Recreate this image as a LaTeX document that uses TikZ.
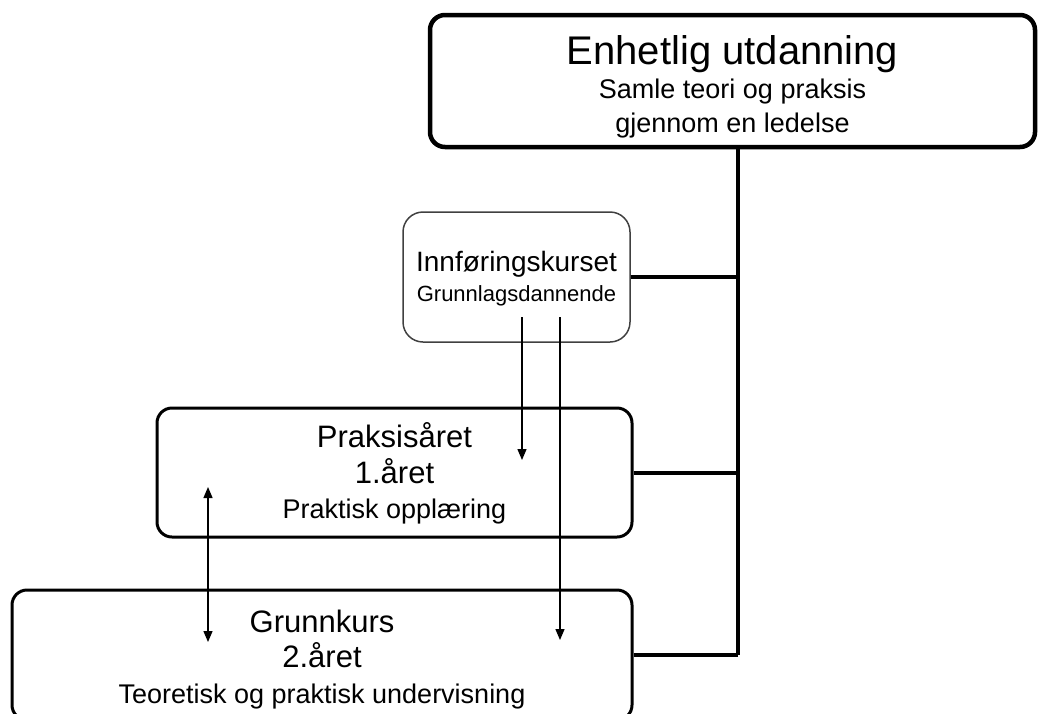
\documentclass[tikz,border=0pt]{standalone}
\usepackage{fontspec}
\setmainfont{Liberation Sans}
\usetikzlibrary{arrows.meta}

\newcommand{\topstrut}[1]{\rule{0pt}{#1}}

\begin{document}
\begin{tikzpicture}[
  x=1pt, y=-1pt,
  box/.style={draw=black, rectangle, rounded corners=15pt, align=center,
              inner sep=0pt, line width=3pt},
  arr/.style={-{Triangle[length=11pt,width=9pt]}, line width=1.3pt},
  trunk/.style={line width=4.5pt}
]
\path[use as bounding box, clip] (0,0) rectangle (1038,713);

\node[box, line width=4.5pt, minimum width=605pt, minimum height=132pt,
      font=\fontsize{27}{34}\selectfont] (top) at (732.5,81)
  {{\fontsize{40}{34}\selectfont\topstrut{41pt}Enhetlig utdanning}\\Samle teori og praksis\\gjennom en ledelse};
\node[box, draw=black!75, line width=1.5pt, rounded corners=20pt,
      minimum width=227pt, minimum height=130pt,
      font=\fontsize{22}{30}\selectfont] (inn) at (516.5,277)
  {{\fontsize{28}{30}\selectfont\topstrut{24pt}Innføringskurset}\\Grunnlagsdannende};
\node[box, minimum width=475pt, minimum height=129pt,
      font=\fontsize{31}{35.5}\selectfont] (prak) at (394.5,472.5)
  {\topstrut{27pt}Praksisåret\\1.året\\{\fontsize{27}{35.5}\selectfont Praktisk opplæring}};
\node[box, minimum width=620pt, minimum height=130pt,
      font=\fontsize{31}{35.5}\selectfont] (grunn) at (322,655)
  {\topstrut{31pt}Grunnkurs\\2.året\\{\fontsize{27}{35.5}\selectfont Teoretisk og praktisk undervisning}};

% ledelse-linja
\coordinate (j3) at (738,655);
\draw[trunk] (top.south -| j3) -- (j3);
\draw[trunk, line width=4pt] (inn.east) -- (inn.east -| j3);
\draw[trunk, line width=4pt] (prak.east) -- (prak.east -| j3);
\draw[trunk, line width=4pt] (grunn.east) -- (j3);

% piler mellom kursene
\coordinate (p1) at (522,317);
\coordinate (p2) at (522,460);
\coordinate (g1) at (560,317);
\coordinate (g2) at (560,640);
\coordinate (d1) at (208,487);
\coordinate (d2) at (208,642);
\draw[arr] (p1) -- (p2);
\draw[arr] (g1) -- (g2);
\draw[arr, {Triangle[length=11pt,width=9pt]}-{Triangle[length=11pt,width=9pt]}] (d1) -- (d2);
\end{tikzpicture}
\end{document}
